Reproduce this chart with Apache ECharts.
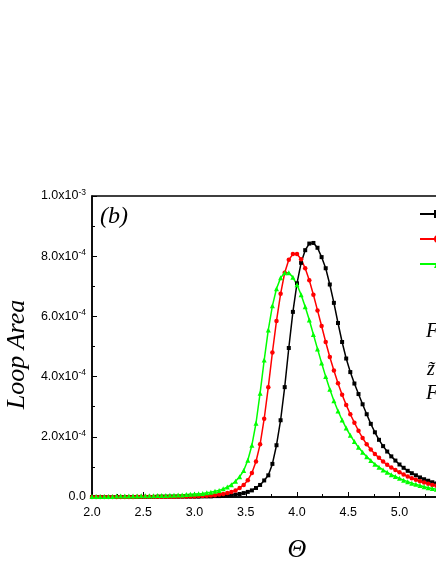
<!DOCTYPE html>
<html>
<head>
<meta charset="utf-8">
<script src="https://cdn.jsdelivr.net/npm/echarts@6/dist/echarts.min.js"></script>
<style>
  html, body { margin: 0; padding: 0; background: #fff; overflow: hidden; }
  /* the figure is wider than the window; its right part is cut off like in the reference */
  #chart { width: 502px; height: 564px; }
</style>
</head>
<body>
<div id="chart"></div>
<script>
// Theta values (x)
var thetas = [2.00,2.04,2.08,2.12,2.16,2.20,2.24,2.28,2.32,2.36,2.40,2.44,2.48,2.52,2.56,2.60,2.64,2.68,2.72,2.76,2.80,2.84,2.88,2.92,2.96,
  3.00,3.04,3.08,3.12,3.16,3.20,3.24,3.28,3.32,3.36,3.40,3.44,3.48,3.52,3.56,3.60,3.64,3.68,3.72,3.76,3.80,3.84,3.88,3.92,3.96,
  4.00,4.04,4.08,4.12,4.16,4.20,4.24,4.28,4.32,4.36,4.40,4.44,4.48,4.52,4.56,4.60,4.64,4.68,4.72,4.76,4.80,4.84,4.88,4.92,4.96,
  5.00,5.04,5.08,5.12,5.16,5.20,5.24,5.28,5.32,5.36,5.40];

// loop area, in units of 1e-4
var blackArea = [0.00,0.00,0.00,0.00,0.00,0.00,0.00,0.00,0.00,0.00,0.00,0.00,0.00,0.00,0.00,0.00,0.01,0.01,0.01,0.01,0.01,0.01,0.01,0.01,0.01,
  0.01,0.01,0.02,0.02,0.02,0.03,0.03,0.04,0.05,0.06,0.08,0.10,0.13,0.17,0.22,0.30,0.40,0.55,0.72,1.10,1.72,2.55,3.65,4.95,6.15,
  7.10,7.78,8.20,8.42,8.44,8.28,7.97,7.60,7.06,6.45,5.78,5.15,4.60,4.15,3.77,3.42,3.08,2.75,2.43,2.15,1.90,1.69,1.51,1.35,1.21,
  1.08,0.97,0.87,0.79,0.72,0.65,0.59,0.54,0.49,0.45,0.41];

var redArea = [0.00,0.00,0.00,0.00,0.00,0.00,0.00,0.00,0.00,0.00,0.00,0.01,0.01,0.01,0.01,0.01,0.01,0.01,0.01,0.01,0.01,0.02,0.02,0.02,0.02,
  0.02,0.03,0.03,0.04,0.05,0.06,0.08,0.10,0.13,0.17,0.22,0.30,0.40,0.56,0.80,1.18,1.75,2.60,3.65,4.80,5.85,6.75,7.45,7.88,8.07,
  8.07,7.90,7.60,7.20,6.72,6.20,5.68,5.15,4.65,4.20,3.78,3.40,3.06,2.75,2.47,2.20,1.96,1.75,1.58,1.43,1.30,1.18,1.07,0.98,0.90,
  0.82,0.75,0.68,0.62,0.57,0.52,0.48,0.44,0.40,0.37,0.34];

var greenArea = [0.02,0.02,0.02,0.02,0.02,0.02,0.03,0.03,0.03,0.03,0.03,0.03,0.04,0.04,0.04,0.04,0.05,0.05,0.05,0.06,0.06,0.07,0.07,0.08,0.09,
  0.10,0.11,0.12,0.14,0.16,0.19,0.22,0.27,0.33,0.41,0.52,0.67,0.88,1.22,1.72,2.45,3.45,4.55,5.55,6.35,6.92,7.28,7.45,7.45,7.30,
  7.05,6.72,6.32,5.88,5.40,4.92,4.45,4.00,3.58,3.20,2.86,2.56,2.29,2.05,1.84,1.65,1.49,1.34,1.21,1.09,0.99,0.90,0.82,0.74,0.68,
  0.62,0.56,0.51,0.46,0.42,0.38,0.34,0.31,0.28,0.26,0.24];

var seriesNames = ['curve 1', 'curve 2', 'curve 3'];
var sideLabels = ['F', 'z\u0303', 'F'];

function pairs(ys) {
  return thetas.map(function (t, i) { return [t, ys[i]]; });
}

var chart = echarts.init(document.getElementById('chart'));

var sans = 'Liberation Sans, Arial, sans-serif';
var serif = 'Liberation Serif, Times New Roman, serif';

var option = {
  animation: false,
  grid: {
    left: 92, top: 196, right: 0, bottom: 67,
    outerBoundsMode: 'none',
    show: true, borderColor: '#000', borderWidth: 1.5
  },
  legend: {
    orient: 'vertical',
    left: 419, top: 207, padding: 0,
    itemWidth: 36, itemHeight: 10, itemGap: 11,
    textStyle: { fontFamily: serif, fontSize: 14, color: '#000' },
    data: seriesNames
  },
  xAxis: {
    type: 'value', min: 2, max: 6, interval: 0.5,
    name: 'Θ', nameLocation: 'middle', nameGap: 40,
    nameTextStyle: { fontFamily: serif, fontStyle: 'italic', fontSize: 26, color: '#000' },
    axisLine: { lineStyle: { color: '#000', width: 1.5 } },
    axisTick: { inside: true, length: 5, lineStyle: { color: '#000', width: 1 } },
    minorTick: { show: true, splitNumber: 2, length: 3, lineStyle: { color: '#000', width: 1 } },
    splitLine: { show: false },
    axisLabel: {
      margin: 9, color: '#000', fontFamily: sans, fontSize: 12.5,
      formatter: function (v) { return v.toFixed(1); }
    }
  },
  yAxis: {
    type: 'value', min: 0, max: 10, interval: 2,
    name: 'Loop Area', nameLocation: 'middle', nameGap: 58,
    nameTextStyle: { fontFamily: serif, fontStyle: 'italic', fontSize: 26, color: '#000', padding: [0, 0, 0, -16] },
    axisLine: { lineStyle: { color: '#000', width: 1.5 } },
    axisTick: { inside: true, length: 5, lineStyle: { color: '#000', width: 1 } },
    minorTick: { show: true, splitNumber: 2, length: 3, lineStyle: { color: '#000', width: 1 } },
    splitLine: { show: false },
    axisLabel: {
      margin: 6, color: '#000',
      formatter: function (v) {
        if (v === 0) return '{b|0.0}';
        if (v >= 10) return '{b|' + (v / 10).toFixed(1) + 'x10}{s|-3}';
        return '{b|' + v.toFixed(1) + 'x10}{s|-4}';
      },
      rich: {
        b: { fontFamily: sans, fontSize: 12.5, color: '#000' },
        s: { fontFamily: sans, fontSize: 8.5, color: '#000', padding: [0, 0, 7, 0] }
      }
    }
  },
  graphic: [
    { type: 'text', left: 100, top: 205, style: { text: '(b)', fontFamily: serif, fontStyle: 'italic', fontSize: 24, fill: '#000' } },
    { type: 'text', left: 426, top: 322, style: { text: sideLabels[0], fontFamily: serif, fontStyle: 'italic', fontSize: 20, fill: '#000' } },
    { type: 'text', left: 427, top: 360, style: { text: sideLabels[1], fontFamily: serif, fontStyle: 'italic', fontSize: 20, fill: '#000' } },
    { type: 'text', left: 426, top: 384, style: { text: sideLabels[2], fontFamily: serif, fontStyle: 'italic', fontSize: 20, fill: '#000' } }
  ],
  series: [
    {
      name: seriesNames[0], type: 'line', data: pairs(blackArea),
      symbol: 'rect', symbolSize: 4, showAllSymbol: true,
      itemStyle: { color: '#000' }, lineStyle: { color: '#000', width: 1.5 }
    },
    {
      name: seriesNames[1], type: 'line', data: pairs(redArea),
      symbol: 'circle', symbolSize: 4.5, showAllSymbol: true,
      itemStyle: { color: '#ff0000' }, lineStyle: { color: '#ff0000', width: 1.5 }
    },
    {
      name: seriesNames[2], type: 'line', data: pairs(greenArea),
      symbol: 'triangle', symbolSize: 5, showAllSymbol: true,
      itemStyle: { color: '#00ff00' }, lineStyle: { color: '#00ff00', width: 1.5 }
    }
  ]
};

chart.setOption(option);
</script>
</body>
</html>
